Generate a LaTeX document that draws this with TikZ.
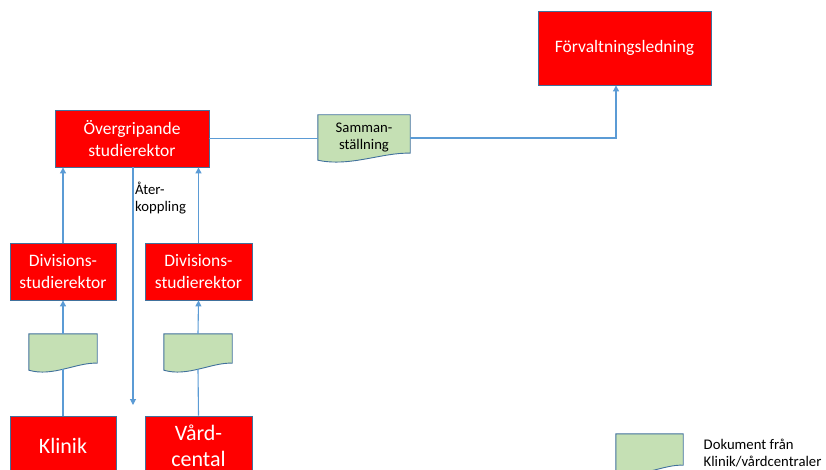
\documentclass[tikz,border=0pt]{standalone}
\usepackage{fontspec}
\setmainfont{Carlito}
\usetikzlibrary{arrows.meta,calc,backgrounds}
\definecolor{boxred}{HTML}{FF0000}
\definecolor{boxedge}{HTML}{41719C}
\definecolor{linkblue}{HTML}{5B9BD5}
\definecolor{docfill}{HTML}{C5E0B4}
\tikzset{
  redbox/.style={draw=boxedge, line width=0.9pt, fill=boxred, text=white, align=center, inner sep=0pt,
     font=\fontsize{17.5}{22}\selectfont},
  bigred/.style={redbox, font=\fontsize{22}{26}\selectfont},
  docnode/.style={draw=none, fill=none, inner sep=0pt, align=center, text=black, font=\fontsize{14.7}{17}\selectfont},
  docline/.style={draw=boxedge, line width=0.9pt, fill=docfill},
  link/.style={draw=linkblue, line width=1.1pt, -{Triangle[width=6pt,length=6pt]}},
  plainlink/.style={draw=linkblue, line width=1.1pt},
  smalltext/.style={inner sep=0pt, align=left, text=black, font=\fontsize{14.7}{17}\selectfont}
}
\newcommand\wdoc[1]{%
  \begin{pgfonlayer}{background}
  \draw[docline] (#1.north west) -- (#1.north east) -- ([yshift=7pt]#1.south east)
    .. controls ($(#1.south east)!0.3!(#1.south west)+(0pt,8pt)$) and ($(#1.south east)!0.65!(#1.south west)+(0pt,-7pt)$) .. (#1.south west) -- cycle;
  \end{pgfonlayer}}
\begin{document}
\begin{tikzpicture}[x=1pt,y=-1pt]
\useasboundingbox (0,0) rectangle (826,470);
\clip (0,0) rectangle (826,470);
% red boxes
\node[redbox, minimum width=173pt, minimum height=74pt] (forv) at (624.5,48) {Förvaltningsledning};
\node[redbox, minimum width=154pt, minimum height=57pt] (over) at (132,138.5) {Övergripande\\studierektor};
\node[redbox, minimum width=106pt, minimum height=57pt] (div1) at (63,271.5) {Divisions-\\studierektor};
\node[redbox, minimum width=107pt, minimum height=57pt] (div2) at (198.5,271.5) {Divisions-\\studierektor};
\node[bigred, minimum width=106pt, minimum height=60pt] (klinik) at (63,446) {Klinik};
\node[bigred, minimum width=107pt, minimum height=60pt] (vard) at (198.5,446) {Vård-\\cental};
% documents
\node[docnode, minimum width=92pt, minimum height=45pt] (samman) at (364,137.5) {Samman-\\ställning};
\wdoc{samman}
\node[docnode, minimum width=68pt, minimum height=36pt] (d1) at (63,352) {};
\wdoc{d1}
\node[docnode, minimum width=68pt, minimum height=36pt] (d2) at (198,352) {};
\wdoc{d2}
\node[docnode, minimum width=67pt, minimum height=38pt] (leg) at (649.5,453) {};
\wdoc{leg}
\node[smalltext, anchor=west] (legtext) at (703.5,453) {Dokument från\\Klinik/vårdcentraler};
% connectors
\draw[link] (div1.north) -- (div1.north |- over.south);
\draw[link] (div2.north) -- (div2.north |- over.south);
\draw[link] (d1.north) -- (div1.south);
\draw[link] (d2.north) -- (div2.south);
\draw[plainlink] (klinik.north) -- ([yshift=1pt]d1.south);
\draw[plainlink] (vard.north) -- ([yshift=1pt]d2.south);
\coordinate (fbend) at (133,405);
\draw[link] (fbend |- over.south) -- (fbend);
\node[smalltext, anchor=west] (fbtext) at (135,198) {Åter-\\koppling};
\draw[plainlink] (over.east) -- (over.east -| samman.west);
\coordinate (turn) at (616,138);
\draw[link] (samman.east |- turn) -- (turn) -- (turn |- forv.south);
\end{tikzpicture}
\end{document}
